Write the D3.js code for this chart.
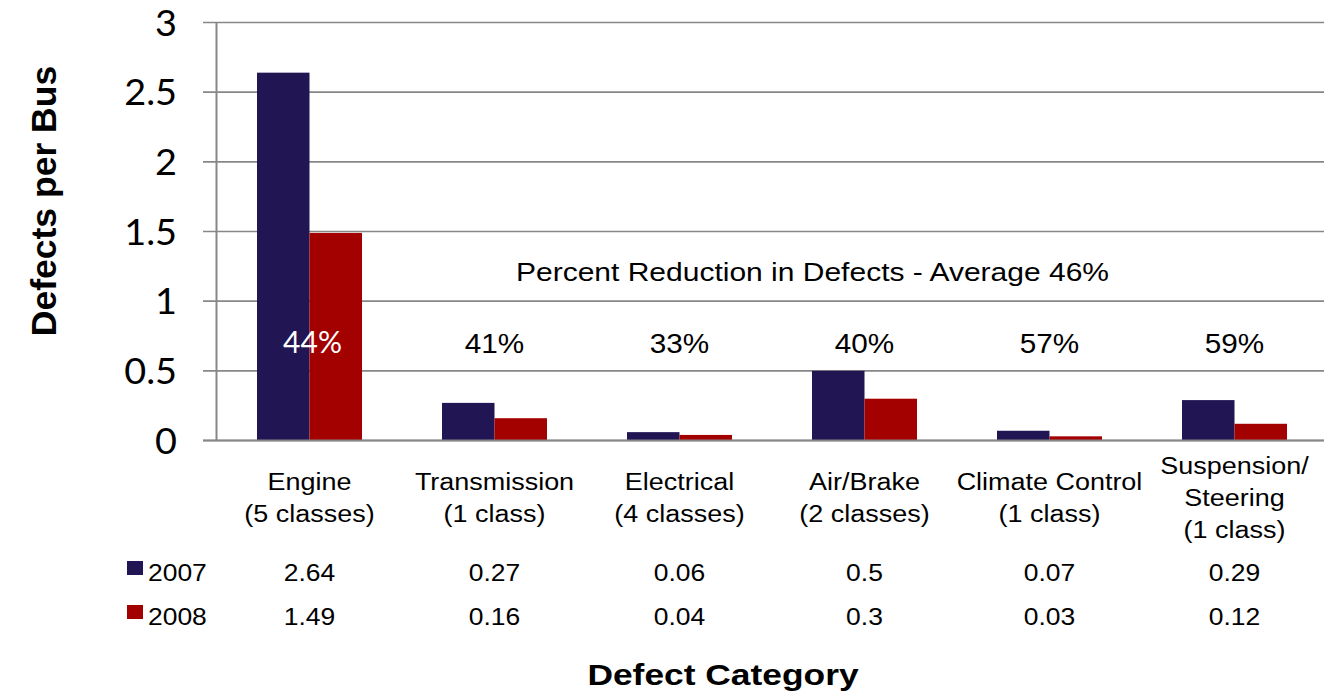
<!DOCTYPE html>
<html>
<head>
<meta charset="utf-8">
<script src="https://cdn.jsdelivr.net/npm/d3@7"></script>
<style>
html,body{margin:0;padding:0;background:#fff;}
svg{display:block;}
</style>
</head>
<body>
<script>
// ---------- DATA ----------
const categories = ["Engine","Transmission","Electrical","Air/Brake","Climate Control","Suspension/Steering"];
const categoryLabelLines = [
  ["Engine","(5 classes)"],
  ["Transmission","(1 class)"],
  ["Electrical","(4 classes)"],
  ["Air/Brake","(2 classes)"],
  ["Climate Control","(1 class)"],
  ["Suspension/","Steering","(1 class)"]
];
const seriesNames = ["2007","2008"];
const values2007 = [2.64,0.27,0.06,0.5,0.07,0.29];
const values2008 = [1.49,0.16,0.04,0.3,0.03,0.12];
const reductionLabels = ["44%","41%","33%","40%","57%","59%"];
const yTickValues = [0,0.5,1,1.5,2,2.5,3];
const yTickLabels = ["0","0.5","1","1.5","2","2.5","3"];
const seriesColors = ["#211553","#A30000"];
const annotationText = "Percent Reduction in Defects - Average 46%";
const yTitle = "Defects per Bus";
const xTitle = "Defect Category";

// ---------- LAYOUT ----------
const W = 1324, H = 698;
const plotLeft = 217, band = 185;
const svg = d3.select("body").append("svg").attr("width", W).attr("height", H);

const x = d3.scaleBand().domain(categories).range([plotLeft, plotLeft + band*categories.length]).paddingInner(0).paddingOuter(0);
const x1 = d3.scaleBand().domain(seriesNames).range([40, 145]);
const y = d3.scaleLinear().domain([0,3]).range([440.5, 22.5]);

const seriesValues = [values2007, values2008];

function stext(g, xp, yp, str, o) {
  const t = g.append("text")
    .attr("transform", `translate(${xp},${yp}) scale(${o.sx||1},1)`)
    .attr("text-anchor", o.anchor || "middle")
    .attr("font-family", o.family || "'Liberation Sans', Arial, sans-serif")
    .attr("font-size", o.size || 24)
    .attr("font-weight", o.weight || "normal")
    .attr("fill", o.fill || "#000")
    .text(str);
  return t;
}

// gridlines (also act as tick marks to the left of axis)
const grid = svg.append("g");
grid.selectAll("line").data(yTickValues).join("line")
  .attr("x1", plotLeft - 14).attr("x2", W)
  .attr("y1", d => y(d)).attr("y2", d => y(d))
  .attr("stroke", "#878787").attr("stroke-width", 1.7);

// bars
const barG = svg.append("g");
seriesNames.forEach((s, si) => {
  barG.selectAll(null).data(categories).join("rect")
    .attr("x", d => x(d) + x1(s))
    .attr("width", x1.bandwidth())
    .attr("y", (d,i) => y(seriesValues[si][i]))
    .attr("height", (d,i) => y(0) - y(seriesValues[si][i]))
    .attr("fill", seriesColors[si]);
});

// y axis line
svg.append("line").attr("x1", plotLeft - 0.5).attr("x2", plotLeft - 0.5)
  .attr("y1", y(3)).attr("y2", y(0))
  .attr("stroke", "#878787").attr("stroke-width", 2);
// x axis baseline
svg.append("line").attr("x1", plotLeft - 14).attr("x2", W)
  .attr("y1", y(0)).attr("y2", y(0))
  .attr("stroke", "#878787").attr("stroke-width", 2.2);

// y tick labels
const yl = svg.append("g");
yTickValues.forEach((v, i) => {
  stext(yl, 177, y(v) + 13, yTickLabels[i], {anchor: "end", family: "Lato, 'Open Sans', sans-serif", size: 36, sx: 1.05});
});

// percentage labels
const pl = svg.append("g");
categories.forEach((c, i) => {
  const cx = x(c) + x.bandwidth()/2;
  if (i === 0) {
    stext(pl, cx + 3, y(0.63), reductionLabels[i], {family: "Lato, 'Open Sans', sans-serif", size: 30, fill: "#fff", sx: 1.0});
  } else {
    stext(pl, cx, y(0.63), reductionLabels[i], {size: 27, sx: 1.1});
  }
});

// annotation
stext(svg, x(categories[3]) - 52 + band/2, y(1.145), annotationText, {size: 25, sx: 1.2});

// category labels
const cl = svg.append("g");
categories.forEach((c, i) => {
  const lines = categoryLabelLines[i];
  const lh = 32;
  const mid = 506;
  const start = mid - (lines.length - 1) * lh / 2;
  lines.forEach((ln, j) => {
    stext(cl, x(c) + x.bandwidth()/2, start + j*lh, ln, {size: 24.5, sx: 1.1});
  });
});

// data table
const tbl = svg.append("g");
const rowBase = [581, 625];
seriesNames.forEach((s, si) => {
  tbl.append("rect").attr("x", 127).attr("y", rowBase[si] - 20).attr("width", 16).attr("height", 14)
    .attr("fill", seriesColors[si]);
  stext(tbl, 148, rowBase[si], s, {anchor: "start", size: 24.5, sx: 1.08});
  categories.forEach((c, i) => {
    stext(tbl, x(c) + x.bandwidth()/2, rowBase[si], String(seriesValues[si][i]), {size: 24.5, sx: 1.08});
  });
});

// axis titles
svg.append("text")
  .attr("transform", `translate(56,201) rotate(-90)`)
  .attr("text-anchor", "middle")
  .attr("font-family", "'Liberation Sans', Arial, sans-serif")
  .attr("font-size", 35.5).attr("font-weight", "bold")
  .text(yTitle);
stext(svg, 723, 685, xTitle, {size: 29, weight: "bold", sx: 1.22});
</script>
</body>
</html>
